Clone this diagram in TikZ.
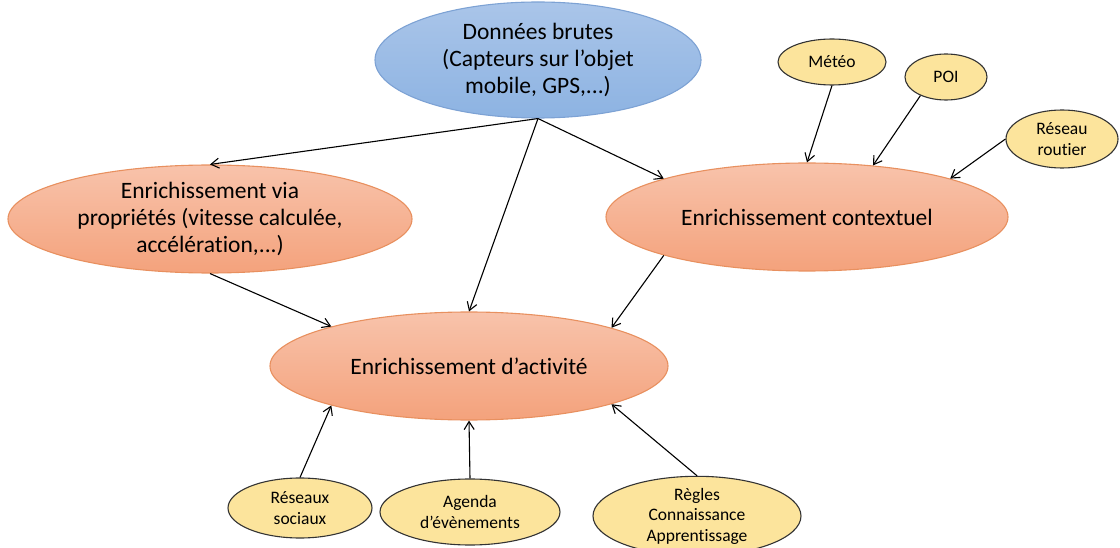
\documentclass[tikz,border=0pt]{standalone}
\usepackage{fontspec}
\setmainfont{Carlito}[Ligatures=NoCommon]
\usepackage{tikz}
\usetikzlibrary{shapes.geometric,arrows.meta}
\definecolor{bluetop}{HTML}{AAC5E9}
\definecolor{bluebot}{HTML}{8DB3E2}
\definecolor{blueline}{HTML}{7DA2D4}
\definecolor{orangetop}{HTML}{F8C3AB}
\definecolor{orangebot}{HTML}{F4A27C}
\definecolor{orangeline}{HTML}{E8905F}
\definecolor{yellowfill}{HTML}{FCE49C}
\tikzstyle{source}=[draw=blueline,%
                     ellipse,%
                     top color=bluetop,%
                     bottom color=bluebot,%
                     inner sep=0pt,%
                     align=center,%
                     font=\fontsize{23.5}{27}\selectfont]
\tikzstyle{enrich}=[draw=orangeline,ellipse,top color=orangetop,bottom color=orangebot,inner sep=0pt,align=center,font=\fontsize{23.5}{27}\selectfont]
\tikzstyle{extern}=[draw=black!80,ellipse,fill=yellowfill,inner sep=0pt,align=center,font=\fontsize{17.5}{20.5}\selectfont]
\begin{document}
\begin{tikzpicture}[x=1pt,y=-1pt,line width=1.1pt,>={Straight Barb[length=8pt,width=10pt]}]
            \clip (0,0) rectangle (1120,548);
            \node[source,minimum width=326pt,minimum height=116pt] (brutes) at (538,60) {Donn\'ees brutes\\(Capteurs sur l'objet\\mobile, GPS,...)};
            \node[enrich,minimum width=404pt,minimum height=108pt] (via) at (210,219) {Enrichissement via\\propri\'et\'es (vitesse calcul\'ee,\\acc\'el\'eration,...)};
            \node[enrich,minimum width=402pt,minimum height=108pt] (ctx) at (807,217) {Enrichissement contextuel};
            \node[enrich,minimum width=398pt,minimum height=108pt] (act) at (469,366) {Enrichissement d'activit\'e};
            \node[extern,minimum width=108pt,minimum height=46pt] (meteo) at (832,62) {M\'et\'eo};
            \node[extern,minimum width=82pt,minimum height=46pt] (poi) at (946,77) {POI};
            \node[extern,minimum width=112pt,minimum height=58pt] (routier) at (1062,139) {R\'eseau\\routier};
            \node[extern,minimum width=144pt,minimum height=60pt] (sociaux) at (300,508) {R\'eseaux\\sociaux};
            \node[extern,minimum width=180pt,minimum height=66pt] (agenda) at (470,512) {Agenda\\d'\'ev\`enements};
            \node[extern,minimum width=208pt,minimum height=72pt] (regles) at (697,516) {R\`egles\\Connaissance\\Apprentissage};
            \draw [->] (brutes.south) -- (via.north);
            \draw [->] (brutes.south) -- (ctx.165);
            \draw [->] (brutes.south) -- (act.north);
            \draw [->] (via.south) -- (act.164);
            \draw [->] (ctx.195) -- (act.15);
            \draw [->] (meteo.south) -- (ctx.north);
            \draw [->] (poi.216) -- (ctx.38);
            \draw [->] (routier.west) -- (ctx.15);
            \draw [->] (sociaux.north) -- (act.196);
            \draw [->] (agenda.north) -- (act.south);
            \draw [->] (regles.north) -- (act.345);
  \end{tikzpicture}
\end{document}
